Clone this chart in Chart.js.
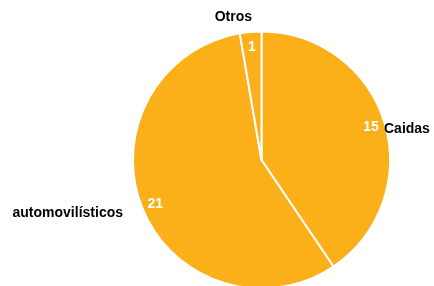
<!DOCTYPE html>
<html>
<head>
<meta charset="utf-8">
<script src="https://cdn.jsdelivr.net/npm/chart.js@4/dist/chart.umd.min.js"></script>
<style>
  html, body { margin: 0; padding: 0; background: #fff; overflow: hidden; }
  #wrap { width: 434px; height: 300px; position: relative; }
</style>
</head>
<body>
<div id="wrap"><canvas id="mychart"></canvas></div>
<script>
/* [ Data ] */
const categories = ['Caidas', 'automovilísticos', 'Otros'];
const values = [15, 21, 1];

/* [ Labels ] */
// category label placement relative to pie centre
const catLabelPlace = [
    { dx: 122.5, dy: -31, align: 'left' },
    { dx: -138.5, dy: 53, align: 'right' },
    { dx: -9.5, dy: -143, align: 'right' }
];

const pieLabels = {
    id: 'pieLabels',
    afterDatasetsDraw(chart) {
        const ctx = chart.ctx;
        const meta = chart.getDatasetMeta(0);
        ctx.save();
        ctx.font = 'bold 14px "Liberation Sans", Arial, sans-serif';
        ctx.textBaseline = 'middle';
        meta.data.forEach(function (arc, i) {
            const p = arc.getProps(['x', 'y', 'startAngle', 'endAngle', 'outerRadius'], true);
            const mid = (p.startAngle + p.endAngle) / 2;
            const r = p.outerRadius - 14;
            ctx.fillStyle = '#ffffff';
            ctx.textAlign = 'center';
            ctx.fillText(String(values[i]), p.x + Math.cos(mid) * r, p.y + Math.sin(mid) * r + 1);

            const pl = catLabelPlace[i];
            ctx.fillStyle = '#000000';
            ctx.textAlign = pl.align;
            ctx.fillText(categories[i], p.x + pl.dx, p.y + pl.dy);
        });
        ctx.restore();
    }
};

const ctx1 = document.getElementById('mychart').getContext('2d');
let mychart = new Chart(ctx1, {
    type: 'pie',
    data: {
        labels: categories,
        datasets: [
            {
                data: values,
                backgroundColor: '#FBB019',
                borderColor: '#ffffff',
                borderWidth: 2
            }
        ]
    },
    options: {
        responsive: true,
        maintainAspectRatio: false,
        animation: false,
        layout: { padding: { left: 132, right: 43, top: 30.5, bottom: 10.5 } },
        plugins: {
            legend: { display: false },
            tooltip: { enabled: false }
        }
    },
    plugins: [pieLabels]
});
</script>
</body>
</html>
